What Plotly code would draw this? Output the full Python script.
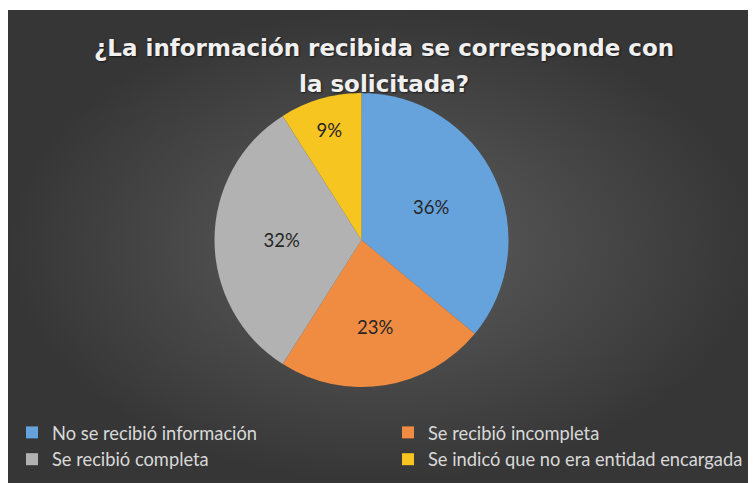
import plotly.graph_objects as go

labels = ["No se recibió información", "Se recibió incompleta",
          "Se recibió completa", "Se indicó que no era entidad encargada"]
values = [36, 23, 32, 9]
colors = ["#66a3dc", "#f08c42", "#b2b2b2", "#f6c520"]
title_lines = ["¿La información recibida se corresponde con", "la solicitada?"]

W, H = 756, 483
OFF = 8  # page body margin
fig = go.Figure()

# background panel with radial gradient (visible region of the page)
px0, px1 = 0, (W - OFF) / W
py0, py1 = OFF / H, 1 - 2 / H
fig.add_trace(go.Scatter(
    x=[px0, px1, px1, px0, px0], y=[py0, py0, py1, py1, py0], mode="lines",
    line=dict(width=0), fill="toself",
    fillgradient=dict(type="radial", colorscale=[[0, "#5e5e5e"], [1, "#363636"]]),
    hoverinfo="skip", showlegend=False,
))

cx, cy, r = 361.5 - OFF, H - (240 - OFF), 147
fig.add_trace(go.Pie(
    labels=labels, values=values, sort=False, direction="clockwise", rotation=0,
    marker=dict(colors=colors, line=dict(width=0)),
    textinfo="percent", texttemplate="%{percent:.0%}", textposition="inside",
    insidetextorientation="horizontal",
    textfont=dict(family="Lato", size=18.5, color="#262626"),
    domain=dict(x=[(cx - r) / W, (cx + r) / W], y=[(cy - r) / H, (cy + r) / H]),
    showlegend=True,
))

title_font = dict(family="DejaVu Sans", size=23, weight="bold", color="#f0f0f0",
                  shadow="1px 1px 2px rgba(0,0,0,0.6)")
for line, ypx in zip(title_lines, [48, 84]):
    fig.add_annotation(text=line, xref="paper", yref="paper", x=(383.5 - OFF) / W,
                       y=1 - (ypx - OFF) / H, xanchor="center", yanchor="middle",
                       showarrow=False, font=title_font)

fig.update_layout(
    width=W, height=H, margin=dict(l=0, r=0, t=0, b=0, autoexpand=False),
    paper_bgcolor="white", plot_bgcolor="rgba(0,0,0,0)",
    xaxis=dict(range=[0, 1], visible=False, fixedrange=True),
    yaxis=dict(range=[0, 1], visible=False, fixedrange=True),
    legend=dict(orientation="h", x=4 / W, xanchor="left", y=1 - (414 - OFF) / H,
                yanchor="top", entrywidth=376 / W, entrywidthmode="fraction",
                traceorder="normal",
                font=dict(family="Lato", size=18.3, color="#d9d9d9"),
                bgcolor="rgba(0,0,0,0)", itemclick=False, itemdoubleclick=False),
)

fig.write_html("out.html")
